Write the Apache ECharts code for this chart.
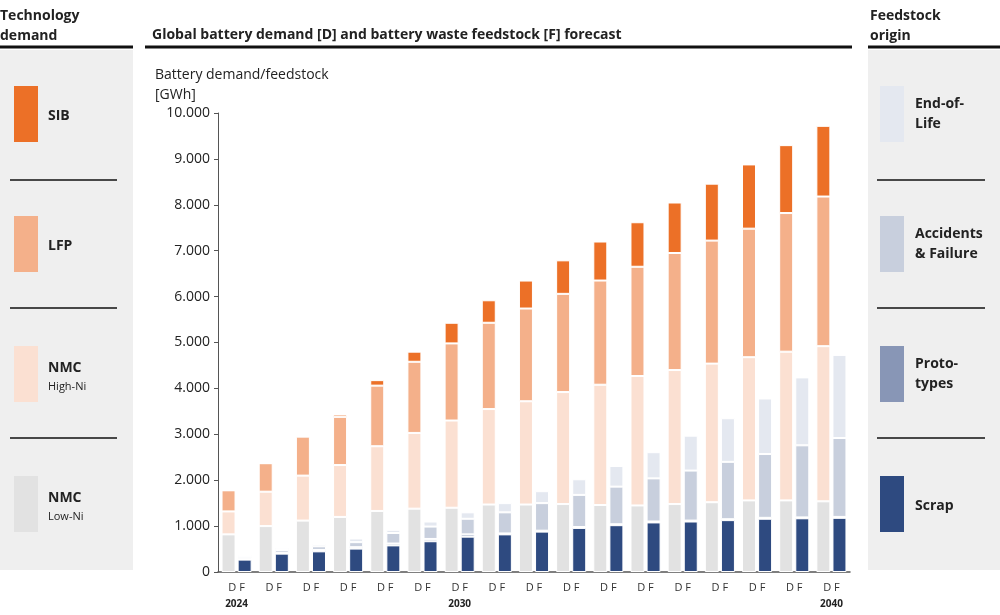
<!DOCTYPE html>
<html>
<head>
<meta charset="utf-8">
<script src="https://cdn.jsdelivr.net/npm/echarts@6/dist/echarts.min.js"></script>
<style>html,body{margin:0;padding:0;background:#fff}#chart{width:1000px;height:615px}</style>
</head>
<body>
<div id="chart"></div>
<script>
// data (GWh)
const years = ['2024','2025','2026','2027','2028','2029','2030','2031','2032','2033','2034','2035','2036','2037','2038','2039','2040'];
const yearLabels = ['2024','','','','','','2030','','','','','','','','','','2040'];
// demand [D]
const nmcLowNi  = [820,1000,1120,1200,1330,1380,1400,1470,1470,1480,1460,1450,1480,1520,1560,1560,1540];
const nmcHighNi = [500,750,980,1130,1410,1650,1900,2080,2250,2440,2620,2820,2920,3020,3120,3240,3380];
const lfp       = [460,620,850,1050,1320,1550,1680,1880,2020,2140,2270,2380,2550,2680,2800,3020,3260];
const sib       = [0,0,0,50,120,220,450,490,610,730,850,970,1100,1240,1400,1480,1540];
// feedstock [F]
const scrap     = [270,400,450,510,580,670,770,820,880,960,1020,1080,1100,1130,1160,1170,1180];
const prototypes= [20,20,30,30,40,50,50,20,20,20,20,20,20,20,20,20,20];
const accidents = [40,60,80,110,230,270,340,460,600,700,820,940,1090,1250,1390,1570,1720];
const endOfLife = [40,40,50,80,70,110,140,200,260,340,450,570,760,950,1210,1480,1810];

const C = {
  low: '#E2E2E2', high: '#FBE0D2', lfp: '#F4B08A', sib: '#EC7027',
  scrap: '#2E4A80', proto: '#8896B6', acc: '#C8CFDD', eol: '#E4E8F0'
};

const chart = echarts.init(document.getElementById('chart'), null, { renderer: 'canvas' });

const bar = (name, stack, data, color) => ({
  name, type: 'bar', stack, data, barWidth: 14, barGap: '15%',
  itemStyle: { color, borderColor: '#fff', borderWidth: 1 },
  emphasis: { disabled: true }
});

const panelText = (x, y, text, size, bold) => ({
  type: 'text', left: x, top: y,
  style: { text, fill: '#222', font: (bold ? 'bold ' : '') + size + 'px "Open Sans", sans-serif', lineHeight: size + 6 }
});
const sw = (x, y, color) => ({ type: 'rect', shape: { x, y, width: 24, height: 56 }, style: { fill: color } });
const hline = (x1, x2, y, w) => ({ type: 'line', shape: { x1, y1: y, x2, y2: y }, style: { stroke: '#111', lineWidth: w || 1.5 } });

const graphic = [
  { type: 'rect', shape: { x: 0, y: 50, width: 133, height: 520 }, style: { fill: '#EFEFEF' }, z: -10 },
  { type: 'rect', shape: { x: 868, y: 50, width: 132, height: 520 }, style: { fill: '#EFEFEF' }, z: -10 },
  panelText(0, 6, 'Technology\ndemand', 14, true),
  panelText(870, 6, 'Feedstock\norigin', 14, true),
  panelText(152, 25, 'Global battery demand [D] and battery waste feedstock [F] forecast', 14, true),
  hline(0, 133, 47, 3), hline(145, 852, 47, 3), hline(868, 1000, 47, 3),
  hline(10, 117, 180), hline(10, 117, 308), hline(10, 117, 438),
  hline(877, 985, 180), hline(877, 985, 308), hline(877, 985, 438),
  sw(14, 86, C.sib), panelText(48, 106, 'SIB', 14, true),
  sw(14, 216, C.lfp), panelText(48, 236, 'LFP', 14, true),
  sw(14, 346, C.high), panelText(48, 358, 'NMC', 14, true), panelText(48, 378, 'High-Ni', 11, false),
  sw(14, 476, C.low), panelText(48, 488, 'NMC', 14, true), panelText(48, 508, 'Low-Ni', 11, false),
  sw(880, 86, C.eol), panelText(915, 94, 'End-of-\nLife', 14, true),
  sw(880, 216, C.acc), panelText(915, 224, 'Accidents\n& Failure', 14, true),
  sw(880, 346, C.proto), panelText(915, 354, 'Proto-\ntypes', 14, true),
  sw(880, 476, C.scrap), panelText(915, 496, 'Scrap', 14, true)
];

const option = {
  backgroundColor: '#fff',
  animation: false,
  textStyle: { fontFamily: '"Open Sans", sans-serif' },
  grid: { left: 218, right: 150, top: 113, bottom: 43 },
  title: {
    text: 'Battery demand/feedstock\n[GWh]', left: 150, top: 60,
    textStyle: { fontSize: 14, fontWeight: 'normal', color: '#222', lineHeight: 20 }
  },
  xAxis: {
    type: 'category', data: years,
    axisLine: { lineStyle: { color: '#555', width: 1.5 } },
    axisTick: { show: false },
    axisLabel: {
      interval: 0, color: '#333', fontSize: 11, margin: 10,
      formatter: (v, i) => 'D F\n{y|' + (yearLabels[i] || ' ') + '}',
      rich: { y: { fontWeight: 'bold', fontSize: 10, color: '#222', padding: [6, 0, 0, 0] } }
    }
  },
  yAxis: {
    type: 'value', min: 0, max: 10000, interval: 1000,
    axisLine: { show: true, lineStyle: { color: '#555' } },
    axisTick: { show: true, length: 4, lineStyle: { color: '#555' } },
    splitLine: { show: false },
    axisLabel: { color: '#222', fontSize: 14, formatter: v => v === 0 ? '0' : (v / 1000).toFixed(3) }
  },
  series: [
    bar('NMC Low-Ni', 'D', nmcLowNi, C.low),
    bar('NMC High-Ni', 'D', nmcHighNi, C.high),
    bar('LFP', 'D', lfp, C.lfp),
    bar('SIB', 'D', sib, C.sib),
    bar('Scrap', 'F', scrap, C.scrap),
    bar('Prototypes', 'F', prototypes, C.proto),
    bar('Accidents & Failure', 'F', accidents, C.acc),
    bar('End-of-Life', 'F', endOfLife, C.eol)
  ],
  graphic
};
chart.setOption(option, true);
window.addEventListener('resize', () => chart.resize());
</script>
</body>
</html>
